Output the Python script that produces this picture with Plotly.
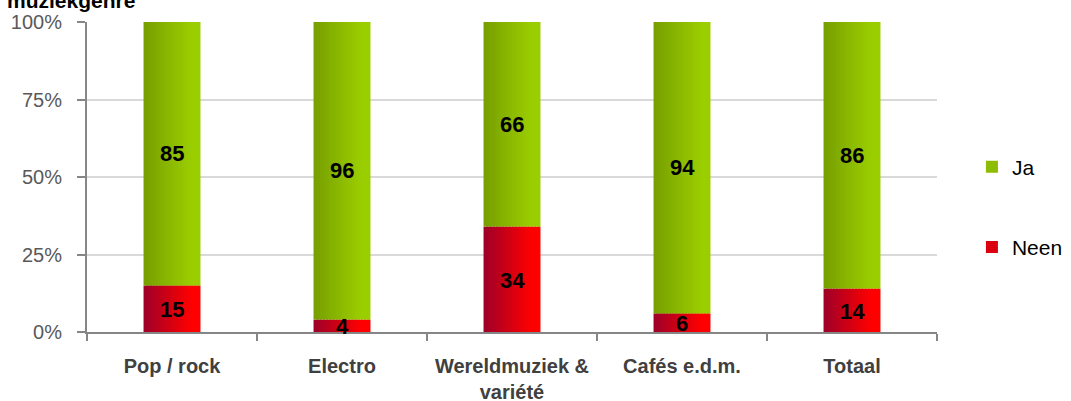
import plotly.graph_objects as go

categories = ["Pop / rock", "Electro", "Wereldmuziek &<br>variété", "Cafés e.d.m.", "Totaal"]
neen = [15, 4, 34, 6, 14]
ja = [85, 96, 66, 94, 86]
yticks = [0, 25, 50, 75, 100]
ytick_labels = ["0%", "25%", "50%", "75%", "100%"]

FONT = "Liberation Sans, Arial, sans-serif"
BAR_W = 0.335
N_STRIPS = 18


def lerp(c1, c2, t):
    return "rgb(%d,%d,%d)" % tuple(round(a + (b - a) * t) for a, b in zip(c1, c2))


green_dark, green_light = (120, 160, 0), (155, 206, 0)
red_dark, red_light = (160, 0, 40), (255, 0, 0)

fig = go.Figure()
step = BAR_W / N_STRIPS
for i in range(N_STRIPS):
    t = i / (N_STRIPS - 1)
    t2 = min(1.0, t * 1.15)
    off = -BAR_W / 2 + i * step
    w = step * 1.6 if i < N_STRIPS - 1 else step
    show = i == N_STRIPS // 2
    fig.add_trace(go.Bar(
        x=categories, y=neen, base=[0] * len(neen), width=w, offset=off,
        marker=dict(color=lerp(red_dark, red_light, t2), line=dict(width=0)),
        name="Neen", legendgroup="neen", showlegend=show, legendrank=2,
        hoverinfo="skip"))
    fig.add_trace(go.Bar(
        x=categories, y=ja, base=neen, width=w, offset=off,
        marker=dict(color=lerp(green_dark, green_light, t2), line=dict(width=0)),
        name="Ja", legendgroup="ja", showlegend=show, legendrank=1,
        hoverinfo="skip"))

annotations = []
for c, n, j in zip(categories, neen, ja):
    annotations.append(dict(x=c, y=n / 2, text="<b>%d</b>" % n, showarrow=False,
                            font=dict(family=FONT, size=22, color="black"), yshift=-1))
    annotations.append(dict(x=c, y=n + j / 2, text="<b>%d</b>" % j, showarrow=False,
                            font=dict(family=FONT, size=22, color="black")))
annotations.append(dict(xref="paper", yref="paper", x=0, y=1, xshift=50, yshift=8,
                        xanchor="right", yanchor="bottom", showarrow=False,
                        text="<b>muziekgenre</b>",
                        font=dict(family=FONT, size=21, color="black")))

fig.update_layout(
    width=1071, height=401,
    margin=dict(l=87, r=134, t=22, b=69, autoexpand=False),
    barmode="overlay",
    plot_bgcolor="white", paper_bgcolor="white",
    font=dict(family=FONT, color="#404040"),
    showlegend=True,
    legend=dict(xref="container", yref="container", x=0.9075, y=0.4838,
                xanchor="left", yanchor="middle",
                tracegroupgap=50, font=dict(family=FONT, size=21, color="black"),
                itemwidth=30, traceorder="grouped"),
    annotations=annotations,
)
fig.update_xaxes(
    type="category", range=[-0.5, 4.5], showline=True, linecolor="#868686", linewidth=2,
    ticks="outside", tickson="boundaries", ticklen=7, tickcolor="#868686", tickwidth=2,
    tickfont=dict(family=FONT, size=20, color="#404040"), showgrid=False,
    tickprefix="<b>", ticksuffix="</b>", ticklabelstandoff=15, automargin=False,
)
fig.update_yaxes(
    range=[0, 100], tickvals=yticks, ticktext=ytick_labels,
    showline=True, linecolor="#868686", linewidth=2, ticks="outside", ticklen=8,
    tickcolor="#868686", tickwidth=2, showgrid=True, gridcolor="#d9d9d9", gridwidth=2,
    tickfont=dict(family=FONT, size=20, color="#595959"), zeroline=False,
    ticklabelstandoff=11, automargin=False,
)

fig.write_html("out.html", post_script="document.body.style.margin='0';",
               config={"displayModeBar": False})
